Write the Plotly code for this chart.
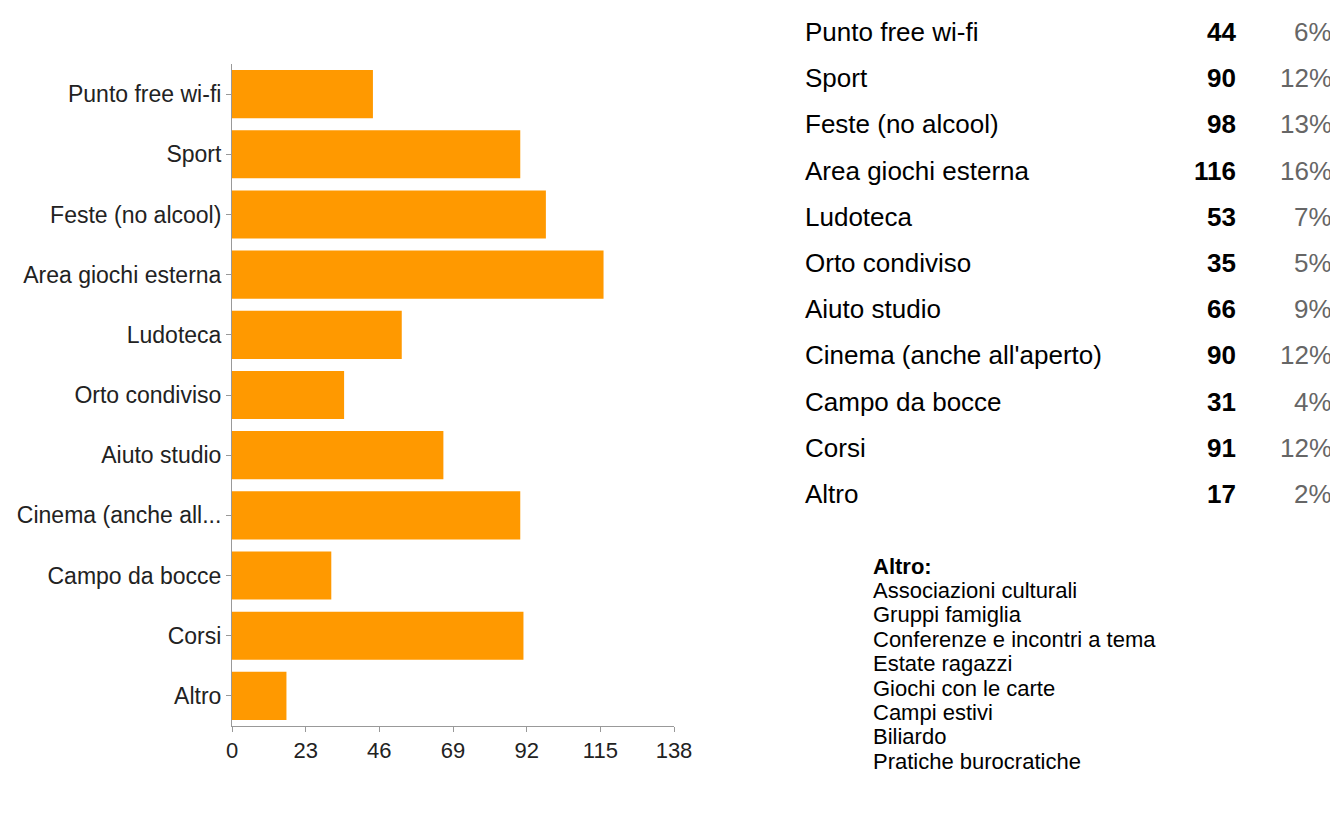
import plotly.graph_objects as go

categories = ["Punto free wi-fi", "Sport", "Feste (no alcool)", "Area giochi esterna",
              "Ludoteca", "Orto condiviso", "Aiuto studio", "Cinema (anche all'aperto)",
              "Campo da bocce", "Corsi", "Altro"]
axis_labels = ["Punto free wi-fi", "Sport", "Feste (no alcool)", "Area giochi esterna",
               "Ludoteca", "Orto condiviso", "Aiuto studio", "Cinema (anche all...",
               "Campo da bocce", "Corsi", "Altro"]
counts = [44, 90, 98, 116, 53, 35, 66, 90, 31, 91, 17]
percents = ["6%", "12%", "13%", "16%", "7%", "5%", "9%", "12%", "4%", "12%", "2%"]
x_ticks = [0, 23, 46, 69, 92, 115, 138]
altro_title = "Altro:"
altro_items = ["Associazioni culturali", "Gruppi famiglia", "Conferenze e incontri a tema",
               "Estate ragazzi", "Giochi con le carte", "Campi estivi", "Biliardo",
               "Pratiche burocratiche"]

W, H = 1338, 816
OFF = 8  # page body margin offset
FONT = "Liberation Sans, Arial, sans-serif"

fig = go.Figure(go.Bar(
    x=counts, y=categories, orientation="h",
    marker=dict(color="#FF9900", line=dict(width=0)),
    hoverinfo="x+y",
))

def px_x(p):
    return (p - OFF) / W

def px_y(p):
    return 1 - (p - OFF) / H

fig.update_layout(
    width=W, height=H,
    margin=dict(l=0, r=0, t=0, b=0, pad=0, autoexpand=False),
    paper_bgcolor="white", plot_bgcolor="white",
    bargap=0.2, showlegend=False,
    font=dict(family=FONT, color="#222"),
    xaxis=dict(domain=[px_x(232), px_x(674)], range=[0, 138], tickvals=x_ticks,
               automargin=False,
               showgrid=False, zeroline=False, showline=True, linecolor="#999", linewidth=1,
               ticks="outside", ticklen=5, tickcolor="#999",
               tickfont=dict(size=22, color="#222", family=FONT), fixedrange=True),
    yaxis=dict(domain=[px_y(726), px_y(64)], categoryorder="array",
               categoryarray=categories, autorange="reversed",
               tickvals=categories, ticktext=axis_labels, automargin=False,
               showgrid=False, zeroline=False, showline=True, linecolor="#999", linewidth=1,
               ticks="outside", ticklen=5, tickcolor="#999",
               tickfont=dict(size=23, color="#222", family=FONT), fixedrange=True),
)

ann = []
row0, step = 32, 46.2
for i, (c, n, p) in enumerate(zip(categories, counts, percents)):
    y = px_y(row0 + step * i)
    ann.append(dict(x=px_x(803), y=y, xref="paper", yref="paper", text=c, showarrow=False,
                    xanchor="left", yanchor="middle",
                    font=dict(family=FONT, size=26, color="#000")))
    ann.append(dict(x=px_x(1238), y=y, xref="paper", yref="paper", text=f"<b>{n}</b>",
                    showarrow=False, xanchor="right", yanchor="middle",
                    font=dict(family=FONT, size=26, color="#000")))
    ann.append(dict(x=px_x(1334), y=y, xref="paper", yref="paper", text=p,
                    showarrow=False, xanchor="right", yanchor="middle",
                    font=dict(family=FONT, size=26, color="#666")))

list_top, list_step, list_size = 566, 24.4, 22
ann.append(dict(x=px_x(871), y=px_y(list_top), xref="paper", yref="paper",
                text=f"<b>{altro_title}</b>", showarrow=False, xanchor="left", yanchor="middle",
                font=dict(family=FONT, size=list_size, color="#000")))
for k, t in enumerate(altro_items):
    ann.append(dict(x=px_x(871), y=px_y(list_top + list_step * (k + 1)), xref="paper",
                    yref="paper", text=t, showarrow=False, xanchor="left", yanchor="middle",
                    font=dict(family=FONT, size=list_size, color="#000")))

fig.update_layout(annotations=ann)
fig.write_html("out.html")
